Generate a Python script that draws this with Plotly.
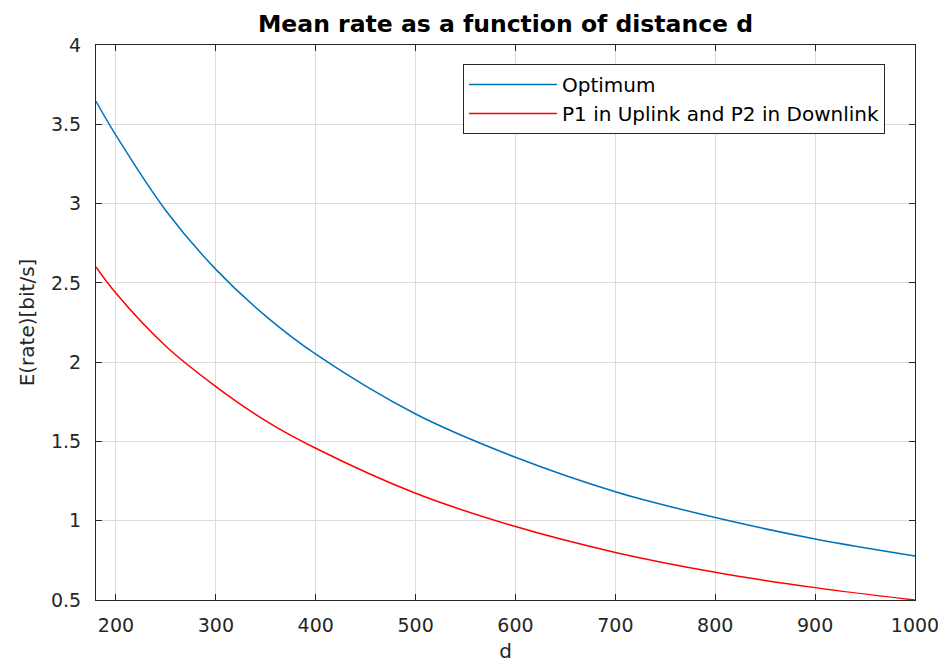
import plotly.graph_objects as go

# Data
distance = [180, 200, 250, 300, 350, 400, 500, 600, 700, 800, 900, 1000]
optimum = [3.645, 3.43, 2.955, 2.585, 2.29, 2.05, 1.673, 1.40, 1.183, 1.02, 0.885, 0.778]
p1_up_p2_down = [2.60, 2.434, 2.10, 1.846, 1.63, 1.457, 1.173, 0.963, 0.80, 0.675, 0.578, 0.50]

x_ticks = [200, 300, 400, 500, 600, 700, 800, 900, 1000]
y_ticks = [0.5, 1, 1.5, 2, 2.5, 3, 3.5, 4]

FONT = "DejaVu Sans"
AXIS_COLOR = "#262626"
GRID_COLOR = "#dcdcdc"

# The page body adds an 8px offset; size the figure so the plot box lands
# at the reference pixel positions within the 946x665 window.
OFF = 8
W, H = 946 - OFF, 665 - OFF
L, R, T, B = 96 - OFF, 31, 45 - OFF, 65

fig = go.Figure()
fig.add_trace(go.Scatter(x=distance, y=optimum, mode="lines", name="Optimum",
                         line=dict(color="#0072BD", width=1.5, shape="spline")))
fig.add_trace(go.Scatter(x=distance, y=p1_up_p2_down, mode="lines",
                         name="P1 in Uplink and P2 in Downlink",
                         line=dict(color="#FF0000", width=1.5, shape="spline")))

axis_common = dict(
    showline=True, linecolor=AXIS_COLOR, linewidth=1.2, mirror="ticks",
    ticks="inside", ticklen=6, tickcolor=AXIS_COLOR, tickwidth=1,
    showgrid=True, gridcolor=GRID_COLOR, gridwidth=1, zeroline=False,
    tickfont=dict(family=FONT, size=19, color=AXIS_COLOR), automargin=False,
)

fig.update_xaxes(range=[180, 1000], tickvals=x_ticks, ticklabelstandoff=8,
                 title=dict(text="d", font=dict(family=FONT, size=20, color=AXIS_COLOR), standoff=9),
                 **axis_common)
fig.update_yaxes(range=[0.5, 4], tickvals=y_ticks, ticklabelstandoff=10,
                 title=dict(text="E(rate)[bit/s]", font=dict(family=FONT, size=20, color=AXIS_COLOR), standoff=10),
                 **axis_common)

plot_w = W - L - R
plot_h = H - T - B
leg_left = 463 - OFF
leg_top = 64 - OFF

fig.update_layout(
    width=W, height=H,
    margin=dict(l=L, r=R, t=T, b=B),
    paper_bgcolor="white", plot_bgcolor="white",
    title=dict(text="<b>Mean rate as a function of distance d</b>",
               font=dict(family=FONT, size=23.5, color="black"),
               x=(L + plot_w / 2) / W, xanchor="center", xref="container",
               y=1 - (24 - OFF) / H, yanchor="middle", yref="container"),
    legend=dict(x=(leg_left - L) / plot_w, y=1 - (leg_top - T) / plot_h,
                xanchor="left", yanchor="top",
                bgcolor="white", bordercolor=AXIS_COLOR, borderwidth=1,
                font=dict(family=FONT, size=20, color="black"),
                itemwidth=88, tracegroupgap=0),
    showlegend=True,
)

fig.write_html("out.html")
